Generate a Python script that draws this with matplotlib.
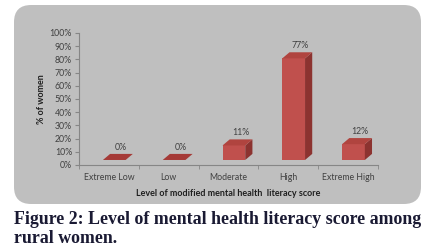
import numpy as np
import matplotlib.pyplot as plt
from matplotlib.patches import FancyBboxPatch, Polygon

categories = ["Extreme Low", "Low", "Moderate", "High", "Extreme High"]
values = [0.0, 0.0, 0.11, 0.77, 0.12]
value_labels = ["0%", "0%", "11%", "77%", "12%"]
yticks = np.arange(0, 1.01, 0.1)
ytick_labels = [f"{int(round(t * 100))}%" for t in yticks]

W, H = 429, 252
fig = plt.figure(figsize=(W / 100, H / 100), dpi=100)
fig.patch.set_facecolor("white")

# gray rounded panel behind the chart
panel = FancyBboxPatch((14 / W, (H - 204) / H), 407 / W, 199 / H,
                       boxstyle="round,pad=0,rounding_size=0.04",
                       transform=fig.transFigure, facecolor="#bfbfbf",
                       edgecolor="none", mutation_aspect=W / H, zorder=-10)
fig.patches.append(panel)

ax = fig.add_axes([79 / W, (H - 165) / H, 299 / W, 132 / H])
ax.set_zorder(5)
ax.set_facecolor("none")
ax.set_xlim(-0.5, len(categories) - 0.5)
ax.set_ylim(0, 1)

front = "#c0504d"
side = "#8c3330"
top = "#b0443f"
x0, x1 = -0.1, 0.28      # front face relative to category centre
dx, dy = 0.12, 0.046     # depth offset
base = 0.038

for i, v in enumerate(values):
    l, r = i + x0, i + x1
    b, t = base, base + v
    ax.add_patch(Polygon([(l, b), (r, b), (r, t), (l, t)], closed=True,
                         facecolor=front, edgecolor="none"))
    ax.add_patch(Polygon([(r, b), (r + dx, b + dy), (r + dx, t + dy), (r, t)],
                         closed=True, facecolor=side, edgecolor="none"))
    ax.add_patch(Polygon([(l, t), (r, t), (r + dx, t + dy), (l + dx, t + dy)],
                         closed=True, facecolor=top if v > 0 else "#a53a37",
                         edgecolor="none"))
    ax.text(i + 0.2, t + dy + 0.015, value_labels[i], ha="center", va="bottom",
            fontsize=6.3, color="#404040", family="Lato")

ax.set_yticks(yticks)
ax.set_yticklabels(ytick_labels, fontsize=6.3, color="#404040", family="Lato")
ax.set_xticks(range(len(categories)))
ax.set_xticklabels(categories, fontsize=6.3, color="#404040", family="Lato")
ax.set_xticks(np.arange(-0.5, len(categories)), minor=True)
ax.tick_params(axis="x", which="major", length=0, pad=6)
ax.tick_params(axis="x", which="minor", length=3, color="#868686", direction="out")
ax.tick_params(axis="y", length=3, color="#868686", pad=2)

for s in ["top", "right"]:
    ax.spines[s].set_visible(False)
for s in ["left", "bottom"]:
    ax.spines[s].set_color("#868686")
    ax.spines[s].set_linewidth(0.8)

ax.set_ylabel("% of women", fontsize=6.5, fontweight="bold", family="Lato",
              color="#202020", labelpad=3)
ax.set_xlabel("Level of modified mental health  literacy score", fontsize=6.5,
              fontweight="bold", family="Lato", color="#202020", labelpad=5)

fig.text(14 / W, 1 - 224 / H, "Figure 2: Level of mental health literacy score among",
         fontsize=12.9, fontweight="bold", family="Liberation Serif",
         color="#1a1a33", va="baseline", ha="left")
fig.text(14 / W, 1 - 243 / H, "rural women.",
         fontsize=12.9, fontweight="bold", family="Liberation Serif",
         color="#1a1a33", va="baseline", ha="left")

fig.savefig("out.png", dpi=100)
